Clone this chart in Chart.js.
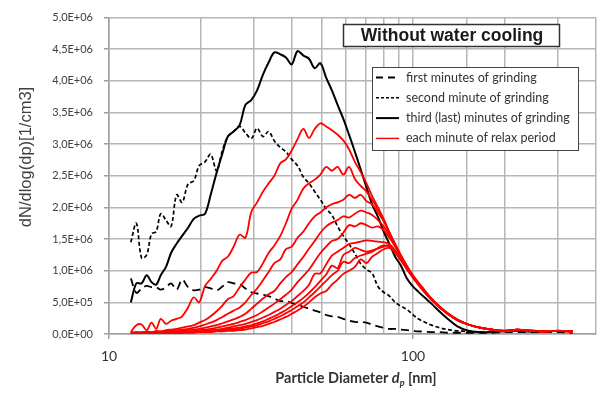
<!DOCTYPE html>
<html>
<head>
<meta charset="utf-8">
<script src="https://cdn.jsdelivr.net/npm/chart.js@4.4.1/dist/chart.umd.min.js"></script>
<style>
  html, body { margin: 0; padding: 0; background: #fff; }
</style>
</head>
<body>
<canvas id="psd-chart" width="605" height="394"></canvas>
<script>
// particle diameter channels [nm]
const diameters = [11.8, 12.3, 12.8, 13.3, 13.8, 14.3, 14.8, 15.4, 16, 16.7,
  17.4, 18.2, 19, 19.8, 20.7, 21.6, 22.6, 23.6, 24.6, 25.7,
  26.9, 28.1, 29.4, 30.7, 32.1, 33.5, 35, 36.6, 38.2, 39.9,
  41.7, 43.6, 45.5, 47.5, 49.6, 51.8, 54.1, 56.5, 59, 61.6,
  64.4, 67.3, 70.3, 73.4, 76.7, 80.1, 83.7, 87.4, 91.3, 95.4,
  99.6, 104, 109, 115, 122, 130, 140, 152, 166, 182,
  200, 220, 245, 270, 300, 335];

// dN/dlog(dp), in units of 1E+06 1/cm3
const firstMin = [0.88, 0.65, 0.72, 0.76, 0.74, 0.74, 0.70, 0.74, 0.80, 0.70,
  0.86, 0.74, 0.69, 0.70, 0.74, 0.72, 0.69, 0.75, 0.82, 0.80,
  0.79, 0.72, 0.66, 0.64, 0.62, 0.60, 0.56, 0.52, 0.52, 0.49,
  0.46, 0.43, 0.40, 0.37, 0.34, 0.30, 0.28, 0.27, 0.24, 0.21,
  0.19, 0.19, 0.18, 0.15, 0.12, 0.10, 0.08, 0.08, 0.07, 0.06,
  0.05, 0.04, 0.04, 0.03, 0.03, 0.02, 0.02, 0.02, 0.02, 0.02,
  0.03, 0.03, 0.03, 0.03, 0.03, 0.02];

const secondMin = [1.45, 1.75, 1.20, 1.25, 1.58, 1.62, 1.90, 1.80, 1.70, 2.20,
  2.08, 2.37, 2.42, 2.66, 2.72, 2.84, 2.58, 2.90, 3.12, 3.20,
  3.28, 3.18, 3.09, 3.25, 3.12, 3.20, 3.05, 2.95, 2.88, 2.76,
  2.66, 2.48, 2.38, 2.25, 2.12, 1.98, 1.88, 1.70, 1.55, 1.42,
  1.27, 1.11, 1.02, 0.96, 0.75, 0.66, 0.60, 0.50, 0.44, 0.39,
  0.31, 0.24, 0.19, 0.14, 0.10, 0.07, 0.05, 0.04, 0.03, 0.03,
  0.04, 0.05, 0.04, 0.04, 0.05, 0.04];

const thirdMin = [0.50, 0.80, 0.80, 0.93, 0.82, 0.78, 0.93, 1.06, 1.28, 1.43,
  1.55, 1.68, 1.82, 1.87, 1.90, 2.20, 2.55, 2.85, 3.12, 3.20,
  3.30, 3.62, 3.70, 3.85, 4.10, 4.29, 4.45, 4.42, 4.37, 4.26,
  4.47, 4.40, 4.35, 4.20, 4.28, 4.05, 3.85, 3.62, 3.40, 3.15,
  2.88, 2.60, 2.32, 2.05, 1.85, 1.62, 1.42, 1.22, 1.08, 0.88,
  0.76, 0.67, 0.58, 0.48, 0.36, 0.24, 0.12, 0.05, 0.03, 0.03,
  0.05, 0.05, 0.04, 0.04, 0.05, 0.04];

const relax1 = [0.03, 0.14, 0.15, 0.06, 0.18, 0.08, 0.24, 0.16, 0.21, 0.24,
  0.28, 0.42, 0.58, 0.50, 0.76, 0.87, 1.00, 1.16, 1.22, 1.38,
  1.57, 1.52, 1.93, 2.08, 2.25, 2.38, 2.50, 2.70, 2.76, 2.90,
  3.08, 3.24, 3.10, 3.24, 3.33, 3.28, 3.22, 3.15, 3.06, 2.92,
  2.72, 2.56, 2.38, 2.18, 2.00, 1.82, 1.60, 1.40, 1.22, 1.06,
  0.92, 0.80, 0.68, 0.55, 0.43, 0.32, 0.22, 0.15, 0.10, 0.07,
  0.04, 0.07, 0.05, 0.04, 0.05, 0.04];

const relax2 = [0.02, 0.03, 0.02, 0.04, 0.03, 0.05, 0.04, 0.06, 0.07, 0.08,
  0.10, 0.12, 0.14, 0.18, 0.22, 0.28, 0.36, 0.45, 0.55, 0.60,
  0.74, 0.86, 0.97, 0.98, 1.12, 1.28, 1.40, 1.55, 1.75, 1.98,
  2.12, 2.30, 2.38, 2.44, 2.52, 2.64, 2.58, 2.64, 2.52, 2.64,
  2.45, 2.34, 2.25, 2.12, 1.97, 1.80, 1.60, 1.42, 1.24, 1.08,
  0.94, 0.82, 0.70, 0.56, 0.44, 0.33, 0.23, 0.15, 0.10, 0.07,
  0.04, 0.07, 0.05, 0.05, 0.05, 0.04];

const relax3 = [0.02, 0.02, 0.03, 0.02, 0.03, 0.03, 0.04, 0.04, 0.05, 0.06,
  0.07, 0.08, 0.10, 0.12, 0.15, 0.18, 0.22, 0.27, 0.32, 0.37,
  0.42, 0.50, 0.62, 0.72, 0.85, 0.98, 1.12, 1.18, 1.34, 1.38,
  1.52, 1.62, 1.75, 1.86, 1.92, 2.00, 2.05, 2.08, 2.12, 2.20,
  2.15, 2.20, 2.10, 2.05, 1.92, 1.78, 1.60, 1.42, 1.24, 1.08,
  0.93, 0.81, 0.69, 0.56, 0.44, 0.33, 0.23, 0.15, 0.10, 0.07,
  0.05, 0.07, 0.06, 0.04, 0.05, 0.04];

const relax4 = [0.02, 0.02, 0.02, 0.03, 0.02, 0.03, 0.03, 0.03, 0.04, 0.04,
  0.05, 0.06, 0.07, 0.08, 0.10, 0.12, 0.14, 0.17, 0.20, 0.23,
  0.27, 0.32, 0.40, 0.48, 0.56, 0.63, 0.68, 0.80, 0.90, 0.98,
  1.10, 1.22, 1.35, 1.47, 1.60, 1.70, 1.76, 1.80, 1.86, 1.84,
  1.90, 1.95, 1.92, 1.88, 1.80, 1.70, 1.56, 1.40, 1.23, 1.07,
  0.93, 0.80, 0.68, 0.56, 0.43, 0.33, 0.23, 0.15, 0.10, 0.07,
  0.05, 0.07, 0.05, 0.05, 0.05, 0.04];

const relax5 = [0.01, 0.02, 0.01, 0.02, 0.02, 0.02, 0.03, 0.02, 0.03, 0.03,
  0.04, 0.04, 0.05, 0.06, 0.07, 0.08, 0.10, 0.12, 0.14, 0.16,
  0.19, 0.22, 0.26, 0.30, 0.36, 0.42, 0.48, 0.55, 0.62, 0.70,
  0.82, 0.92, 1.02, 1.15, 1.28, 1.38, 1.47, 1.50, 1.60, 1.72,
  1.70, 1.75, 1.72, 1.68, 1.70, 1.64, 1.52, 1.38, 1.22, 1.07,
  0.92, 0.80, 0.68, 0.55, 0.43, 0.32, 0.22, 0.15, 0.10, 0.07,
  0.05, 0.06, 0.05, 0.04, 0.05, 0.04];

const relax6 = [0.01, 0.01, 0.02, 0.01, 0.02, 0.02, 0.02, 0.02, 0.03, 0.03,
  0.03, 0.03, 0.04, 0.04, 0.05, 0.06, 0.07, 0.08, 0.10, 0.12,
  0.14, 0.16, 0.19, 0.22, 0.26, 0.30, 0.35, 0.40, 0.46, 0.52,
  0.60, 0.68, 0.78, 0.95, 0.96, 1.10, 1.24, 1.30, 1.36, 1.42,
  1.44, 1.46, 1.48, 1.47, 1.46, 1.45, 1.42, 1.32, 1.20, 1.06,
  0.92, 0.80, 0.68, 0.55, 0.43, 0.32, 0.22, 0.15, 0.10, 0.07,
  0.05, 0.07, 0.05, 0.05, 0.05, 0.04];

const relax7 = [0.01, 0.01, 0.01, 0.02, 0.01, 0.02, 0.02, 0.02, 0.02, 0.02,
  0.03, 0.03, 0.03, 0.04, 0.04, 0.05, 0.06, 0.07, 0.08, 0.09,
  0.10, 0.12, 0.14, 0.17, 0.20, 0.24, 0.28, 0.33, 0.38, 0.44,
  0.50, 0.57, 0.65, 0.74, 0.84, 0.94, 1.08, 1.04, 1.25, 1.30,
  1.36, 1.33, 1.30, 1.32, 1.35, 1.38, 1.40, 1.30, 1.18, 1.05,
  0.91, 0.79, 0.67, 0.55, 0.43, 0.32, 0.22, 0.15, 0.10, 0.07,
  0.05, 0.06, 0.05, 0.04, 0.05, 0.04];

const relax8 = [0.01, 0.01, 0.01, 0.01, 0.01, 0.02, 0.01, 0.02, 0.02, 0.02,
  0.02, 0.03, 0.03, 0.03, 0.04, 0.04, 0.05, 0.05, 0.06, 0.07,
  0.08, 0.10, 0.12, 0.14, 0.17, 0.20, 0.24, 0.28, 0.33, 0.38,
  0.44, 0.50, 0.58, 0.66, 0.75, 0.84, 0.93, 1.00, 1.14, 1.12,
  1.20, 1.24, 1.27, 1.30, 1.36, 1.40, 1.38, 1.30, 1.17, 1.04,
  0.90, 0.79, 0.67, 0.54, 0.43, 0.32, 0.22, 0.15, 0.10, 0.07,
  0.05, 0.07, 0.05, 0.05, 0.05, 0.04];

const relax9 = [0.01, 0.01, 0.01, 0.01, 0.01, 0.01, 0.01, 0.01, 0.02, 0.02,
  0.02, 0.02, 0.02, 0.03, 0.03, 0.03, 0.04, 0.04, 0.05, 0.05,
  0.06, 0.07, 0.09, 0.11, 0.13, 0.16, 0.19, 0.23, 0.27, 0.32,
  0.37, 0.43, 0.50, 0.58, 0.64, 0.68, 0.78, 0.86, 0.95, 1.00,
  1.06, 1.18, 1.12, 1.22, 1.28, 1.34, 1.36, 1.28, 1.16, 1.02,
  0.90, 0.78, 0.66, 0.54, 0.42, 0.32, 0.22, 0.15, 0.10, 0.07,
  0.05, 0.06, 0.05, 0.04, 0.05, 0.04];

const relaxSeries = [relax1, relax2, relax3, relax4, relax5, relax6, relax7, relax8, relax9];

const yTickLabels = ['0,0E+00', '5,0E+05', '1,0E+06', '1,5E+06', '2,0E+06', '2,5E+06',
  '3,0E+06', '3,5E+06', '4,0E+06', '4,5E+06', '5,0E+06'];
const xTickValues = [10, 100];
const xTickLabels = ['10', '100'];

const legendLabels = [
  'first minutes of grinding',
  'second minute of grinding',
  'third (last) minutes of grinding',
  'each minute of relax period',
];
const chartTitle = 'Without water cooling';
const yTitle = 'dN/dlog(dp)[1/cm3]';

const GRID = '#b6b6b6';
const AXIS = '#9e9e9e';
const TEXT = '#404040';

const toPoints = (vals) => vals.map((v, i) => ({ x: diameters[i], y: v }));

const legendStyles = [
  { color: '#000', width: 1.8, dash: [7, 5] },
  { color: '#000', width: 1.4, dash: [3, 2] },
  { color: '#000', width: 2, dash: [] },
  { color: '#ff0000', width: 1.4, dash: [] },
];

// title box, legend box and axis titles
const decorations = {
  id: 'decorations',
  afterDraw(chart) {
    const ctx = chart.ctx;

    // y axis title
    ctx.save();
    ctx.translate(26, 157);
    ctx.rotate(-Math.PI / 2);
    ctx.font = '16.5px "Liberation Sans", Arial, sans-serif';
    ctx.fillStyle = TEXT;
    ctx.textAlign = 'center';
    ctx.textBaseline = 'middle';
    ctx.fillText(yTitle, 0, 0);
    ctx.restore();

    // x axis title: Particle Diameter d_p [nm]
    ctx.save();
    ctx.fillStyle = '#333';
    ctx.textBaseline = 'alphabetic';
    const fBold = 'bold 14.5px Lato, sans-serif';
    const fItal = 'italic bold 14.5px Lato, sans-serif';
    const fSub = 'italic bold 9px Lato, sans-serif';
    const parts = [
      { t: 'Particle Diameter ', f: fBold, dy: 0 },
      { t: 'd', f: fItal, dy: 0 },
      { t: 'p', f: fSub, dy: 3 },
      { t: ' [nm]', f: fBold, dy: 0 },
    ];
    let total = 0;
    parts.forEach((p) => { ctx.font = p.f; p.w = ctx.measureText(p.t).width; total += p.w; });
    let x = 356 - total / 2;
    parts.forEach((p) => { ctx.font = p.f; ctx.fillText(p.t, x, 383 + p.dy); x += p.w; });
    ctx.restore();

    // title box
    ctx.save();
    ctx.fillStyle = '#fff';
    ctx.fillRect(343, 24, 217, 23);
    ctx.strokeStyle = '#333';
    ctx.lineWidth = 1.5;
    ctx.strokeRect(343.5, 24.5, 216, 22);
    ctx.font = 'bold 17.5px "Liberation Sans", Arial, sans-serif';
    ctx.fillStyle = '#1a1a1a';
    ctx.textAlign = 'center';
    ctx.textBaseline = 'middle';
    ctx.fillText(chartTitle, 452, 36);
    ctx.restore();

    // legend box
    ctx.save();
    ctx.fillStyle = '#fff';
    ctx.fillRect(372, 67, 207, 84);
    ctx.strokeStyle = '#444';
    ctx.lineWidth = 1;
    ctx.strokeRect(372.5, 67.5, 206, 83);
    ctx.font = '12.5px Lato, sans-serif';
    ctx.textBaseline = 'middle';
    legendLabels.forEach((label, i) => {
      const y = 77.5 + i * 20.3;
      const s = legendStyles[i];
      ctx.strokeStyle = s.color;
      ctx.lineWidth = s.width;
      ctx.setLineDash(s.dash);
      ctx.beginPath();
      ctx.moveTo(376, y);
      ctx.lineTo(399, y);
      ctx.stroke();
      ctx.setLineDash([]);
      ctx.fillStyle = '#333';
      ctx.fillText(label, 406, y);
    });
    ctx.restore();
  },
};

const datasets = [
  ...relaxSeries.map((vals) => ({
    label: legendLabels[3],
    data: toPoints(vals),
    borderColor: '#ff0000',
    borderWidth: 1.8,
  })),
  {
    label: legendLabels[2],
    data: toPoints(thirdMin),
    borderColor: '#000',
    borderWidth: 2,
  },
  {
    label: legendLabels[1],
    data: toPoints(secondMin),
    borderColor: '#000',
    borderWidth: 1.7,
    borderDash: [4, 2.5],
  },
  {
    label: legendLabels[0],
    data: toPoints(firstMin),
    borderColor: '#000',
    borderWidth: 1.8,
    borderDash: [8, 5],
  },
];

Chart.defaults.font.family = 'Lato, sans-serif';

const ctx = document.getElementById('psd-chart').getContext('2d');
new Chart(ctx, {
  type: 'line',
  data: { datasets },
  options: {
    responsive: false,
    animation: false,
    devicePixelRatio: 1,
    layout: { padding: { top: 15, right: 5, left: 0, bottom: 0 } },
    elements: {
      point: { radius: 0 },
      line: { tension: 0.35, fill: false },
    },
    plugins: {
      legend: { display: false },
      tooltip: { enabled: false },
    },
    scales: {
      x: {
        type: 'logarithmic',
        min: 10,
        max: 400,
        afterFit: (s) => { s.height = 60; },
        border: { color: AXIS, width: 1.5 },
        grid: {
          color: GRID,
          lineWidth: 1.5,
          tickLength: 5,
          tickColor: (c) => (c.tick && xTickValues.includes(c.tick.value) ? AXIS : 'rgba(0,0,0,0)'),
        },
        ticks: {
          autoSkip: false,
          maxRotation: 0,
          padding: 9,
          color: '#333',
          font: { size: 14 },
          callback: (v) => {
            const i = xTickValues.indexOf(v);
            return i >= 0 ? xTickLabels[i] : '';
          },
        },
      },
      y: {
        min: 0,
        max: 5,
        afterFit: (s) => { s.width = 109; },
        border: { color: AXIS, width: 1.5 },
        grid: { color: GRID, lineWidth: 1.5, tickLength: 5, tickColor: AXIS },
        ticks: {
          stepSize: 0.5,
          padding: 11,
          color: TEXT,
          font: { size: 11 },
          callback: (v) => yTickLabels[Math.round(v * 2)],
        },
      },
    },
  },
  plugins: [decorations],
});
</script>
</body>
</html>
